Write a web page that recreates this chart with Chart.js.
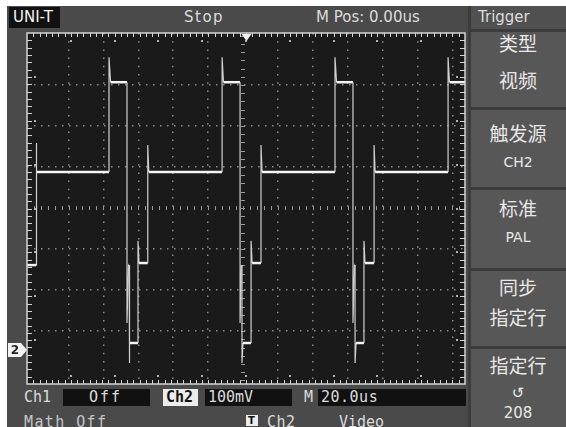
<!DOCTYPE html>
<html><head><meta charset="utf-8">
<script src="https://cdn.jsdelivr.net/npm/chart.js@4/dist/chart.umd.min.js"></script>
<style>
html,body{margin:0;padding:0;background:#fff;}
#wrap{position:relative;width:566px;height:427px;overflow:hidden;background:#fff;}
.abs{position:absolute;}
.t{position:absolute;color:#dcdcdc;font-family:"DejaVu Sans",sans-serif;font-size:15px;line-height:20px;white-space:nowrap;}
.mono{font-family:"DejaVu Sans Mono",monospace;}
.cjk{font-family:"Noto Sans CJK SC",sans-serif;font-size:19px;line-height:22px;color:#e8e8e8;}
.menu{left:470px;width:96px;text-align:center;}
.box{position:absolute;background:#111;}
.mb{position:absolute;left:471px;width:95px;background:#575757;}
canvas{position:absolute;left:0;top:0;}
</style></head>
<body><div id="wrap">
<div class="abs" style="left:7px;top:6px;width:559px;height:421px;background:#4a4a4a"></div>
<!-- header -->
<div class="box" style="left:9px;top:7px;width:51px;height:21px;"></div>
<div class="t" style="left:13px;top:7px;color:#f4f4f4">UNI-T</div>
<div class="t" style="left:184px;top:7px;letter-spacing:1.5px">Stop</div>
<div class="t" style="left:316px;top:7px;">M Pos: 0.00us</div>
<!-- right menu -->
<div class="abs" style="left:468px;top:6px;width:98px;height:421px;background:#3c3c3c"></div>
<div class="abs" style="left:471px;top:6px;width:95px;height:23px;background:#505050"></div>
<div class="mb" style="top:32px;height:75px"></div>
<div class="mb" style="top:110px;height:77px"></div>
<div class="mb" style="top:190px;height:78px"></div>
<div class="mb" style="top:271px;height:75px"></div>
<div class="mb" style="top:349px;height:78px"></div>
<div class="t" style="left:478px;top:7px;">Trigger</div>
<div class="t cjk menu" style="top:32px">类型</div>
<div class="t cjk menu" style="top:69px">视频</div>
<div class="t cjk menu" style="top:122px">触发源</div>
<div class="t menu" style="top:152px;font-size:14px;color:#e8e8e8">CH2</div>
<div class="t cjk menu" style="top:197px">标准</div>
<div class="t menu" style="top:227px;font-size:14px;color:#e8e8e8">PAL</div>
<div class="t cjk menu" style="top:276px">同步</div>
<div class="t cjk menu" style="top:306px">指定行</div>
<div class="t cjk menu" style="top:354px">指定行</div>
<div class="t menu" style="top:383px;font-size:15px;color:#e8e8e8">↺</div>
<div class="t menu" style="top:403px;font-size:15px;color:#e8e8e8">208</div>
<!-- bottom bar -->
<div class="t mono" style="left:24px;top:387px;">Ch1</div>
<div class="box" style="left:63px;top:389px;width:87px;height:17px;"></div>
<div class="t mono" style="left:89px;top:387px;letter-spacing:2px">Off</div>
<div class="abs" style="left:163px;top:389px;width:35px;height:17px;background:#ececec"></div>
<div class="t mono" style="left:166px;top:387px;color:#111;font-weight:bold">Ch2</div>
<div class="box" style="left:205px;top:389px;width:87px;height:17px;"></div>
<div class="t mono" style="left:208px;top:387px;">100mV</div>
<div class="t mono" style="left:304px;top:387px;">M</div>
<div class="box" style="left:318px;top:389px;width:148px;height:17px;"></div>
<div class="t mono" style="left:321px;top:387px;letter-spacing:0.5px">20.0us</div>
<div class="t mono" style="left:24px;top:412px;letter-spacing:1.4px;color:#c4c4c4">Math Off</div>
<div class="abs" style="left:246px;top:415px;width:12px;height:11px;background:#ececec"></div>
<div class="t" style="left:248px;top:411px;font-size:10px;color:#111;font-weight:bold">T</div>
<div class="t mono" style="left:267px;top:412px;letter-spacing:0.5px">Ch2</div>
<div class="t mono" style="left:339px;top:412px;">Video</div>
<canvas id="c" width="566" height="427"></canvas>
</div>
<script>
// time (us) and voltage (mV, relative to screen centre) of the Ch2 video trace
const waveT = [-123.8,-118.6,-118.6,-118.1,
  -76.8,-76.8,-75.9,-66.5,-66.5,-65.6,-65.3,-65.3,-64.8,-60.2,-60.2,-59.6,-54.6,-54.6,-54.0,
  -12.0,-12.0,-11.2,-1.7,-1.7,-0.9,-0.6,-0.6,0.0,4.6,4.6,5.2,10.3,10.3,10.9,
  52.7,52.7,53.6,63.0,63.0,63.9,64.2,64.2,64.8,69.3,69.3,69.9,75.1,75.1,75.7,
  117.5,117.5,118.3,127.2];
const waveV = [-139,-139,159,88,
  88,368,307,307,-280,-139,-139,-378,-329,-329,-80,-134,-134,154,88,
  88,368,307,307,-280,-139,-139,-378,-329,-329,-80,-134,-134,154,88,
  88,368,307,307,-280,-139,-139,-378,-329,-329,-80,-134,-134,154,88,
  88,368,307,307];
const gridT = [-100,-80,-60,-40,-20,0,20,40,60,80,100,120];
const gridV = [-300,-200,-100,0,100,200,300];
const xRange = [-123.8, 127.2];
const yRange = [-429, 427];
const ch2Ground = -346;
const trigT = 2;

const points = waveT.map((t,i)=>({x:t,y:waveV[i]}));

const scope = {
  id:'scope',
  beforeDraw(chart){
    const {ctx, chartArea:a} = chart;
    ctx.save(); ctx.fillStyle='#1a1a1a';
    ctx.fillRect(a.left, a.top, a.right-a.left, a.bottom-a.top);
    ctx.restore();
  },
  beforeDatasetsDraw(chart){
    const {ctx, chartArea:a, scales:{x,y}} = chart;
    ctx.save();
    ctx.fillStyle='#9a9a9a';
    const x0 = x.getPixelForValue(0), y0 = y.getPixelForValue(0);
    for(let v=-120; v<=128; v+=4){ const px=x.getPixelForValue(v); if(px>a.left+2&&px<a.right-2) ctx.fillRect(Math.round(px),y0-2,1,4); }
    for(let v=-420; v<=420; v+=20){ const py=y.getPixelForValue(v); if(py>a.top+2&&py<a.bottom-2) ctx.fillRect(x0-2,Math.round(py),4,1); }
    // sparse frame dots
    ctx.fillStyle='#b0b0b0';
    const w=a.right-a.left, h=a.bottom-a.top;
    for(let k=1;k<10;k++){ const px=Math.round(a.left+k*w/10); ctx.fillRect(px-1,a.top+7,2,2); ctx.fillRect(px-1,a.bottom-9,2,2); }
    for(let k=1;k<8;k++){ const py=Math.round(a.top+k*h/8); ctx.fillRect(a.left+7,py-1,2,2); ctx.fillRect(a.right-9,py-1,2,2); }
    ctx.restore();
  },
  afterDraw(chart){
    const {ctx, chartArea:a, scales:{x,y}} = chart;
    ctx.save();
    ctx.strokeStyle='#d4d4d4'; ctx.lineWidth=1.5;
    ctx.strokeRect(a.left, a.top, a.right-a.left, a.bottom-a.top);
    ctx.lineWidth=1;
    const w=a.right-a.left, h=a.bottom-a.top;
    ctx.beginPath();
    for(let k=1;k<70;k++){ const px=Math.round(a.left+k*w/70)+0.5; ctx.moveTo(px,a.top); ctx.lineTo(px,a.top+4); ctx.moveTo(px,a.bottom); ctx.lineTo(px,a.bottom-4); }
    for(let k=1;k<48;k++){ const py=Math.round(a.top+k*h/48)+0.5; ctx.moveTo(a.left,py); ctx.lineTo(a.left+5,py); ctx.moveTo(a.right,py); ctx.lineTo(a.right-5,py); }
    ctx.stroke();
    // trigger position marker
    const tx = x.getPixelForValue(trigT);
    ctx.fillStyle='#f2f2f2';
    ctx.beginPath(); ctx.moveTo(tx-5,a.top+1); ctx.lineTo(tx+5,a.top+1); ctx.lineTo(tx,a.top+8); ctx.closePath(); ctx.fill();
    // ch2 ground marker
    const gy = Math.round(y.getPixelForValue(ch2Ground));
    ctx.beginPath(); ctx.moveTo(8,gy-7); ctx.lineTo(21,gy-7); ctx.lineTo(27,gy); ctx.lineTo(21,gy+7); ctx.lineTo(8,gy+7); ctx.closePath(); ctx.fill();
    ctx.fillStyle='#222'; ctx.font='bold 12px "DejaVu Sans"'; ctx.textAlign='center'; ctx.textBaseline='middle';
    ctx.fillText('2',15,gy+1);
    ctx.restore();
  }
};

new Chart(document.getElementById('c'), {
  type:'line',
  data:{datasets:[{data:points, borderColor:'#f0f0f0', borderWidth:1, pointRadius:0, tension:0,
    segment:{
      borderWidth: c => c.p0.parsed.y===c.p1.parsed.y ? 2.5 : 1.2,
      borderColor: c => c.p0.parsed.y===c.p1.parsed.y ? '#f4f4f4' : '#cfcfcf'
    }}]},
  options:{
    responsive:false, animation:false, devicePixelRatio:1,
    layout:{padding:{left:27,top:33,right:101,bottom:43}},
    plugins:{legend:{display:false}, tooltip:{enabled:false}},
    scales:{
      x:{type:'linear', min:xRange[0], max:xRange[1],
        afterBuildTicks: s => { s.ticks = gridT.map(v=>({value:v})); },
        ticks:{display:false},
        grid:{drawTicks:false, color: c => c.tick && c.tick.value===0 ? 'rgba(0,0,0,0)' : '#8a8a8a', lineWidth:1.5},
        border:{display:false, dash:[1.5,6.7]}},
      y:{type:'linear', min:yRange[0], max:yRange[1],
        afterBuildTicks: s => { s.ticks = gridV.map(v=>({value:v})); },
        ticks:{display:false},
        grid:{drawTicks:false, color: c => c.tick && c.tick.value===0 ? 'rgba(0,0,0,0)' : '#8a8a8a', lineWidth:1.5},
        border:{display:false, dash:[1.5,5.5]}}
    }
  },
  plugins:[scope]
});
</script>
</body></html>
